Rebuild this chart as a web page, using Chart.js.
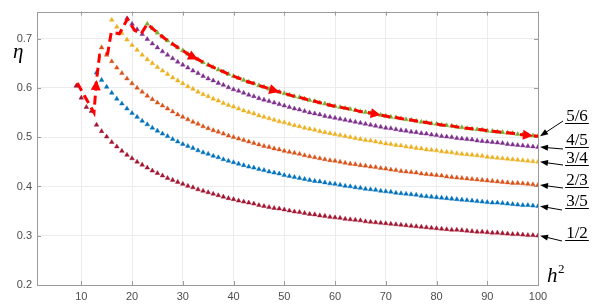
<!DOCTYPE html>
<html lang="en">
<head>
<meta charset="UTF-8">
<title>eta vs h2</title>
<style>
  body { margin: 0; background: #fff; }
  #wrap { width: 597px; height: 306px; }
</style>
</head>
<body>
<div id="wrap"><canvas id="myChart" width="597" height="306"></canvas></div>
<script src="https://cdn.jsdelivr.net/npm/chart.js@4.4.0/dist/chart.umd.min.js"></script>
<script>
// h^2 grid (every series ends at 100)
const h2 = [9,10,11,12,13,14,15,16,17,18,19,20,21,22,23,24,25,26,27,28,29,30,
  31,32,33,34,35,36,37,38,39,40,41,42,43,44,45,46,47,48,49,50,51,52,53,54,55,56,57,58,59,60,
  61,62,63,64,65,66,67,68,69,70,71,72,73,74,75,76,77,78,79,80,81,82,83,84,85,86,87,88,89,90,
  91,92,93,94,95,96,97,98,99,100];

const rates = ['1/2', '3/5', '2/3', '3/4', '4/5', '5/6'];
const colors = ['#A2142F', '#0072BD', '#D95319', '#EDB120', '#7E2F8E', '#77AC30'];

// eta, rate 1/2, from h2 = 9
const eta12 = [0.604,0.580,0.561,0.553,0.525,0.512,0.501,0.490,0.481,0.472,0.464,0.457,0.450,0.444,
  0.438,0.432,0.427,0.422,0.417,0.413,0.409,0.405,0.401,0.398,
  0.394,0.391,0.388,0.385,0.382,0.379,0.376,0.374,0.371,0.369,
  0.367,0.365,0.362,0.360,0.358,0.356,0.355,0.353,0.351,0.349,
  0.348,0.346,0.344,0.343,0.341,0.340,0.338,0.337,0.336,0.334,
  0.333,0.332,0.331,0.329,0.328,0.327,0.326,0.325,0.324,0.323,
  0.322,0.321,0.320,0.319,0.318,0.317,0.316,0.315,0.314,0.313,
  0.312,0.312,0.311,0.310,0.309,0.308,0.308,0.307,0.306,0.306,
  0.305,0.304,0.303,0.303,0.302,0.301,0.301,0.300];
// rate 3/5, from 13
const eta35 = [0.631,0.616,0.602,0.590,0.578,0.568,0.558,0.549,0.541,0.533,
  0.526,0.519,0.513,0.507,0.502,0.496,0.491,0.486,0.482,0.478,
  0.473,0.469,0.466,0.462,0.459,0.455,0.452,0.449,0.446,0.443,
  0.440,0.438,0.435,0.433,0.430,0.428,0.426,0.423,0.421,0.419,
  0.417,0.415,0.413,0.411,0.410,0.408,0.406,0.405,0.403,0.401,
  0.400,0.398,0.397,0.395,0.394,0.393,0.391,0.390,0.389,0.387,
  0.386,0.385,0.384,0.383,0.381,0.380,0.379,0.378,0.377,0.376,
  0.375,0.374,0.373,0.372,0.371,0.370,0.369,0.368,0.367,0.367,
  0.366,0.365,0.364,0.363,0.362,0.362,0.361,0.360];
// rate 2/3, from 14
const eta23 = [0.682,0.667,0.654,0.641,0.630,0.619,0.609,0.600,0.592,
  0.584,0.577,0.570,0.564,0.558,0.552,0.546,0.541,0.536,0.531,
  0.527,0.522,0.518,0.514,0.511,0.507,0.503,0.500,0.497,0.494,
  0.491,0.488,0.485,0.482,0.480,0.477,0.475,0.472,0.470,0.468,
  0.466,0.463,0.461,0.459,0.457,0.455,0.453,0.452,0.450,0.448,
  0.446,0.445,0.443,0.442,0.440,0.439,0.437,0.436,0.434,0.433,
  0.431,0.430,0.429,0.428,0.426,0.425,0.424,0.423,0.422,0.420,
  0.419,0.418,0.417,0.416,0.415,0.414,0.413,0.412,0.411,0.410,
  0.409,0.408,0.407,0.407,0.406,0.405,0.404,0.403];
// rate 3/4, from 16
const eta34 = [0.738,0.724,0.711,0.698,0.687,0.677,0.667,
  0.658,0.650,0.642,0.635,0.628,0.621,0.615,0.609,0.603,0.598,
  0.592,0.587,0.583,0.578,0.574,0.569,0.565,0.562,0.558,0.554,
  0.551,0.548,0.544,0.541,0.538,0.535,0.532,0.530,0.527,0.524,
  0.522,0.519,0.517,0.515,0.512,0.510,0.508,0.506,0.504,0.502,
  0.500,0.498,0.496,0.494,0.493,0.491,0.489,0.487,0.486,0.484,
  0.483,0.481,0.480,0.478,0.477,0.475,0.474,0.473,0.471,0.470,
  0.469,0.467,0.466,0.465,0.464,0.463,0.462,0.460,0.459,0.458,
  0.457,0.456,0.455,0.454,0.453,0.452,0.451,0.450];
// rate 4/5, from 19
const eta45 = [0.741,0.730,0.719,0.709,
  0.699,0.690,0.682,0.674,0.667,0.660,0.653,0.647,0.641,0.635,
  0.630,0.624,0.619,0.615,0.610,0.606,0.601,0.597,0.594,0.590,
  0.586,0.583,0.579,0.576,0.573,0.570,0.567,0.564,0.561,0.558,
  0.556,0.553,0.550,0.548,0.546,0.543,0.541,0.539,0.537,0.535,
  0.533,0.531,0.529,0.527,0.525,0.523,0.521,0.519,0.518,0.516,
  0.514,0.513,0.511,0.510,0.508,0.507,0.505,0.504,0.502,0.501,
  0.500,0.498,0.497,0.496,0.495,0.493,0.492,0.491,0.490,0.489,
  0.488,0.486,0.485,0.484,0.483,0.482,0.481,0.480];
// rate 5/6, from 23
const eta56 = [0.730,0.721,0.712,0.704,0.696,0.689,0.682,0.676,0.669,0.663,
  0.658,0.652,0.647,0.642,0.637,0.633,0.628,0.624,0.620,0.616,
  0.612,0.609,0.605,0.602,0.598,0.595,0.592,0.589,0.586,0.583,
  0.581,0.578,0.575,0.573,0.570,0.568,0.565,0.563,0.561,0.559,
  0.557,0.555,0.552,0.551,0.549,0.547,0.545,0.543,0.541,0.540,
  0.538,0.536,0.535,0.533,0.531,0.530,0.528,0.527,0.525,0.524,
  0.523,0.521,0.520,0.518,0.517,0.516,0.515,0.513,0.512,0.511,
  0.510,0.509,0.508,0.506,0.505,0.504,0.503,0.502];

// red dashed envelope: jagged start, then it rides on the 5/6 curve
const envHeadX = [9.2, 12.5, 13, 13.6, 15.2, 15.9, 17.5, 19.1, 20.5, 21.8];
const envHeadY = [0.61, 0.55, 0.616, 0.667, 0.67, 0.713, 0.71, 0.74, 0.717, 0.71];
const envArrowAt = [13, 33, 49, 69, 99];

const xTicks = [10, 20, 30, 40, 50, 60, 70, 80, 90, 100];
const yTicks = [0.2, 0.3, 0.4, 0.5, 0.6, 0.7];

const series = [eta12, eta35, eta23, eta34, eta45, eta56];

function toPoints(vals) {
  const off = h2.length - vals.length;
  return vals.map((v, i) => ({ x: h2[off + i], y: v }));
}

// where the rate labels sit (text centre x, baseline y) and where their arrows start
const labelPos = {
  '5/6': { x: 577, y: 121, tx: 563, ty: 121 },
  '4/5': { x: 577, y: 145, tx: 563, ty: 149 },
  '3/4': { x: 577, y: 163, tx: 563, ty: 165 },
  '2/3': { x: 577, y: 185, tx: 563, ty: 188 },
  '3/5': { x: 577, y: 206, tx: 562, ty: 210 },
  '1/2': { x: 577, y: 238, tx: 562, ty: 241 }
};

const envData = envHeadX.map((x, i) => ({ x: x, y: envHeadY[i] })).concat(toPoints(eta56));

const datasets = [{
  label: 'envelope',
  data: envData,
  showLine: true,
  borderColor: '#FF0000',
  borderWidth: 3,
  borderDash: [9, 5],
  pointRadius: 0,
  tension: 0,
  order: 0
}];
series.forEach((vals, k) => {
  datasets.push({
    label: rates[k],
    data: toPoints(vals),
    showLine: false,
    pointStyle: 'triangle',
    pointRadius: 2.7,
    borderWidth: 0.8,
    backgroundColor: colors[k],
    borderColor: colors[k] + '88',
    order: 6 - k
  });
});

function arrowHead(ctx, x, y, ang, len, half, color) {
  ctx.save();
  ctx.translate(x, y);
  ctx.rotate(ang);
  ctx.fillStyle = color;
  ctx.beginPath();
  ctx.moveTo(0, 0);
  ctx.lineTo(-len, -half);
  ctx.lineTo(-len, half);
  ctx.closePath();
  ctx.fill();
  ctx.restore();
}

const deco = {
  id: 'deco',
  beforeDatasetsDraw(chart) {
    const ctx = chart.ctx, a = chart.chartArea;
    const xs = chart.scales.x, ys = chart.scales.y;
    ctx.save();
    ctx.strokeStyle = '#9a9a9a';
    ctx.lineWidth = 1;
    ctx.strokeRect(Math.round(a.left) + 0.5, Math.round(a.top) + 0.5,
      Math.round(a.right - a.left), Math.round(a.bottom - a.top));
    ctx.beginPath();
    xTicks.forEach(v => {
      const px = Math.round(xs.getPixelForValue(v)) + 0.5;
      ctx.moveTo(px, a.bottom); ctx.lineTo(px, a.bottom - 4);
      ctx.moveTo(px, a.top); ctx.lineTo(px, a.top + 4);
    });
    yTicks.forEach(v => {
      const py = Math.round(ys.getPixelForValue(v)) + 0.5;
      ctx.moveTo(a.left, py); ctx.lineTo(a.left + 4, py);
      ctx.moveTo(a.right, py); ctx.lineTo(a.right - 4, py);
    });
    ctx.stroke();
    ctx.restore();
  },
  afterDatasetsDraw(chart) {
    const ctx = chart.ctx;
    ctx.save();
    // arrowheads on the envelope
    const em = chart.getDatasetMeta(0);
    envArrowAt.forEach(h => {
      const i = envData.findIndex(p => p.x === h);
      if (i < 1) return;
      const p = em.data[i], q = em.data[i - 1];
      arrowHead(ctx, p.x, p.y, Math.atan2(p.y - q.y, p.x - q.x), 10, 5, '#FF0000');
    });
    // rate labels with arrows to the last point of each series
    ctx.font = '17px "Liberation Serif", "Times New Roman", serif';
    ctx.textAlign = 'center';
    ctx.textBaseline = 'alphabetic';
    rates.forEach((r, k) => {
      const meta = chart.getDatasetMeta(k + 1);
      const end = meta.data[meta.data.length - 1];
      const L = labelPos[r];
      ctx.fillStyle = '#000';
      ctx.fillText(r, L.x, L.y);
      const w = ctx.measureText(r).width;
      ctx.fillRect(L.x - w / 2 - 1, L.y + 2, w + 2, 1);
      const hx = end.x + 2, hy = end.y;
      const ang = Math.atan2(hy - L.ty, hx - L.tx);
      ctx.strokeStyle = '#000';
      ctx.lineWidth = 1;
      ctx.beginPath();
      ctx.moveTo(L.tx, L.ty);
      ctx.lineTo(hx - 7 * Math.cos(ang), hy - 7 * Math.sin(ang));
      ctx.stroke();
      arrowHead(ctx, hx, hy, ang, 8, 3, '#000');
    });
    // axis symbols
    ctx.textAlign = 'left';
    ctx.font = 'italic 21px "Liberation Serif", "Times New Roman", serif';
    ctx.fillText('\u03B7', 13, 58);
    ctx.fillText('h', 547, 282);
    ctx.font = '13px "Liberation Serif", "Times New Roman", serif';
    ctx.fillText('2', 558, 273);
    ctx.restore();
  }
};

const ctx = document.getElementById('myChart').getContext('2d');
const myChart = new Chart(ctx, {
  type: 'scatter',
  data: { datasets: datasets },
  options: {
    responsive: false,
    animation: false,
    layout: { padding: { left: 0, top: 7, right: 59, bottom: 0 } },
    plugins: { legend: { display: false }, tooltip: { enabled: false } },
    scales: {
      x: {
        type: 'linear',
        min: 1.27,
        max: 100,
        afterFit: s => { s.height = 21; },
        afterBuildTicks: s => { s.ticks = xTicks.map(v => ({ value: v })); },
        border: { display: false },
        grid: { color: '#ececec', drawTicks: false },
        ticks: {
          padding: 5,
          color: '#4d4d4d',
          font: { family: '"Liberation Sans", Arial, sans-serif', size: 11 },
          maxRotation: 0
        }
      },
      y: {
        type: 'linear',
        min: 0.2,
        max: 0.755,
        afterFit: s => { s.width = 37; },
        afterBuildTicks: s => { s.ticks = yTicks.map(v => ({ value: v })); },
        border: { display: false },
        grid: { color: '#ececec', drawTicks: false },
        ticks: {
          padding: 5,
          color: '#4d4d4d',
          font: { family: '"Liberation Sans", Arial, sans-serif', size: 11 },
          callback: v => v.toFixed(1)
        }
      }
    }
  },
  plugins: [deco]
});
</script>
</body>
</html>
